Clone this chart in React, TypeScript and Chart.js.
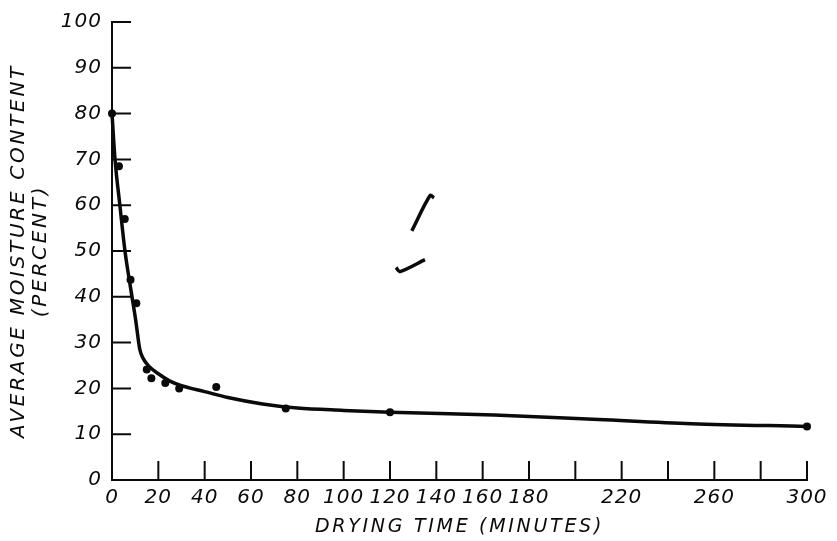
import React, { useEffect, useRef } from "react";
import { Chart, registerables } from "chart.js";

Chart.register(...registerables);

// Measured drying points (minutes, percent moisture)
const pointTimes = [0, 3, 5.5, 8, 10.5, 15, 17, 23, 29, 45, 75, 120, 300];
const pointMoisture = [80, 68.5, 57, 43.7, 38.6, 24.1, 22.2, 21.2, 20.0, 20.3, 15.6, 14.8, 11.7];

// Fitted drying curve
const curveTimes = [0, 1.3, 3.4, 5.6, 8, 10.2, 12, 13.5, 16, 20, 25, 30, 40, 50, 65, 80, 100, 120, 165, 210, 250, 300];
const curveMoisture = [80, 70, 60, 50, 42, 35, 28.5, 26.5, 24.8, 23.2, 21.6, 20.6, 19.3, 18, 16.6, 15.7, 15.2, 14.8, 14.2, 13.2, 12.3, 11.7];

// Stray pen marks on the scan
const slashTimes = [129.4, 137.3, 139];
const slashMoisture = [54.4, 62.1, 61.6];
const checkTimes = [122.6, 124.3, 135.1];
const checkMoisture = [46.4, 45.5, 48.1];

const xTickValues = [20, 40, 60, 80, 100, 120, 140, 160, 180, 200, 220, 240, 260, 280, 300];
const xHiddenLabels = [200, 240, 280];
const yTickValues = [10, 20, 30, 40, 50, 60, 70, 80, 90, 100];

const xTitle = "DRYING TIME (MINUTES)";
const yTitle = ["AVERAGE MOISTURE CONTENT", "(PERCENT)"];

const FONT = "'DejaVu Sans', 'Liberation Sans', sans-serif";
const INK = "#0a0a0a";

const zip = (xs: number[], ys: number[]) => xs.map((x, i) => ({ x, y: ys[i] }));

const spacingPlugin = {
  id: "spacing",
  beforeDraw(chart: any) {
    (chart.ctx as any).letterSpacing = "2.7px";
  },
  afterDatasetsDraw(chart: any) {
    (chart.ctx as any).letterSpacing = "1px";
  },
  afterDraw(chart: any) {
    (chart.ctx as any).letterSpacing = "0px";
  },
};

const innerTicksPlugin = {
  id: "innerTicks",
  beforeDatasetsDraw(chart: any) {
    const { ctx, scales } = chart;
    const xs = scales.x;
    const ys = scales.y;
    const len = 19;
    ctx.save();
    ctx.strokeStyle = INK;
    ctx.lineWidth = 2;
    ctx.beginPath();
    xTickValues.forEach((v) => {
      const px = xs.getPixelForValue(v);
      ctx.moveTo(px, ys.bottom);
      ctx.lineTo(px, ys.bottom - len);
    });
    yTickValues.forEach((v) => {
      const py = ys.getPixelForValue(v);
      ctx.moveTo(xs.left, py);
      ctx.lineTo(xs.left + len, py);
    });
    ctx.stroke();
    ctx.restore();
  },
};

export default function App() {
  const ref = useRef<HTMLCanvasElement | null>(null);

  useEffect(() => {
    if (!ref.current) return;
    const chart = new Chart(ref.current, {
      type: "scatter",
      data: {
        datasets: [
          {
            label: "Curve",
            data: zip(curveTimes, curveMoisture),
            showLine: true,
            borderColor: INK,
            borderWidth: 3.5,
            pointRadius: 0,
            cubicInterpolationMode: "monotone",
            clip: false,
          } as any,
          {
            label: "Measured",
            data: zip(pointTimes, pointMoisture),
            backgroundColor: INK,
            borderColor: INK,
            pointRadius: 4,
            borderWidth: 0,
            clip: false,
          } as any,
          {
            label: "Mark 1",
            data: zip(slashTimes, slashMoisture),
            showLine: true,
            borderColor: INK,
            borderWidth: 3.5,
            pointRadius: 0,
            tension: 0.3,
          } as any,
          {
            label: "Mark 2",
            data: zip(checkTimes, checkMoisture),
            showLine: true,
            borderColor: INK,
            borderWidth: 3.5,
            pointRadius: 0,
            tension: 0.3,
          } as any,
        ],
      },
      options: {
        animation: false,
        responsive: true,
        maintainAspectRatio: false,
        layout: { padding: { left: 0, right: 30, top: 17, bottom: 0 } },
        plugins: {
          legend: { display: false },
          tooltip: { enabled: false },
        },
        scales: {
          x: {
            type: "linear",
            min: 0,
            max: 300,
            grid: { display: false, drawTicks: false },
            border: { display: true, color: INK, width: 2 },
            ticks: {
              stepSize: 20,
              padding: 6,
              color: INK,
              z: 1,
              maxRotation: 0,
              autoSkip: false,
              font: { family: FONT, size: 20, style: "italic" },
              callback: (v: any) => (xHiddenLabels.includes(Number(v)) ? "" : String(v)),
            },
            title: {
              display: true,
              text: xTitle,
              color: INK,
              padding: { top: 0, bottom: 3 },
              font: { family: FONT, size: 19, style: "italic", lineHeight: 1.1 },
            },
            afterFit: (s: any) => {
              s.height = 61;
            },
          },
          y: {
            type: "linear",
            min: 0,
            max: 100,
            grid: { display: false, drawTicks: false },
            border: { display: true, color: INK, width: 2 },
            ticks: {
              stepSize: 10,
              padding: 10,
              color: INK,
              z: 1,
              font: { family: FONT, size: 20, style: "italic" },
            },
            title: {
              display: true,
              text: yTitle,
              color: INK,
              padding: { top: 8, bottom: 0 },
              font: { family: FONT, size: 20, style: "italic", lineHeight: 1.1 },
            },
            afterFit: (s: any) => {
              s.width = 112;
            },
          },
        },
      },
      plugins: [spacingPlugin, innerTicksPlugin],
    });
    return () => chart.destroy();
  }, []);

  return (
    <div style={{ position: "fixed", left: 0, top: 0, width: 837, height: 541, background: "#fff" }}>
      <canvas ref={ref} />
    </div>
  );
}
